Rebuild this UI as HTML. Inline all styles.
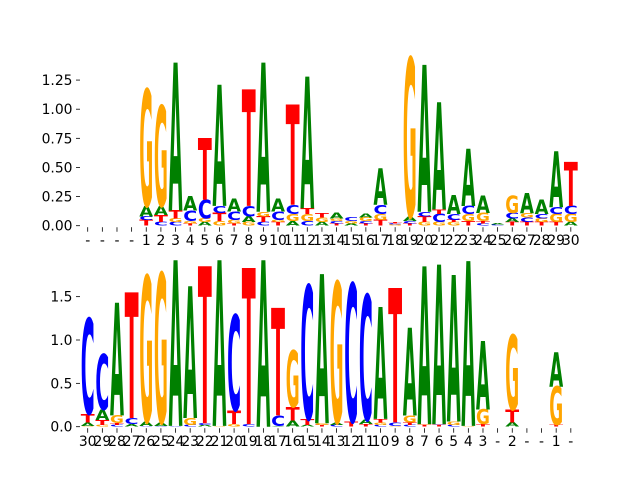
<!DOCTYPE html>
<html><head><meta charset="utf-8"><style>
html,body{margin:0;padding:0;background:#fff}
svg{display:block}
text.tk{font-family:"DejaVu Sans","Liberation Sans",sans-serif;font-size:13.9px;fill:#000}
</style></head><body>
<svg id="chart" width="640" height="480" viewBox="0 0 640 480" xmlns="http://www.w3.org/2000/svg"></svg>
<script>
const topLabels = ['-','-','-','-','1','2','3','4','5','6','7','8','9','10','11','12','13','14','15','16','17','18','19','20','21','22','23','24','25','26','27','28','29','30'];
const topData = [[],[],[],[],
"T.05 C.03 A.09 G1.0","C.03 T.06 A.08 G.86","C.03 G.03 T.07 A1.27","T.02 G.02 C.09 A.12","A.03 G.03 C.16 T.53",
"G.04 T.07 C.06 A1.04","T.02 G.03 C.07 A.11","G.03 A.05 C.09 T1.0","C.03 T.05 G.04 A1.28","T.03 G.02 C.07 A.11",
"A.04 G.06 C.08 T.86","C.04 G.06 T.05 A1.13","A.03 G.04 T.04","T.02 C.02 G.02 A.05","A.02 G.02 C.03",
"T.02 C.02 G.03 A.03","T.05 G.05 C.08 A.31","G.01 C.01 T.01","T.02 C.02 A.04 G1.36","G.03 T.05 C.04 A1.26",
"G.03 C.07 T.04 A.92","G.03 T.02 C.05 A.16","T.04 G.06 C.07 A.49","C.02 T.02 G.07 A.15","C.01 A.01",
"T.03 A.03 C.05 G.15","T.03 C.04 G.04 A.17","T.03 G.03 C.04 A.12","T.03 G.07 C.06 A.48","A.03 G.07 C.07 T.38"];
const topTicks = [0,0.25,0.5,0.75,1.0,1.25];
const botLabels = ['30','29','28','27','26','25','24','23','22','21','20','19','18','17','16','15','14','13','12','11','10','9','8','7','6','5','4','3','-','2','-','-','1','-'];
const botData = ["G.01 A.04 T.10 C1.10","G.02 T.06 A.12 C.64","C.02 T.02 G.09 A1.30","A.03 C.07 T1.45","C.01 A.05 G1.68",
"C.01 A.04 G1.72","C.01 A1.91","C.02 G.08 A1.52","A.02 C.02 T1.81","G.01 A1.91","G.03 T.16 C1.10","C.03 T1.80","A1.92",
"A.01 C.12 T1.24","A.07 T.16 G.65","A.02 T.07 C1.54","T.02 G.02 A1.72","C.02 A.03 G1.62","T.06 C1.59","T.03 A.05 C1.44",
"C.02 G.03 T.04 A1.29","G.01 C.04 T1.55","C.02 T.03 G.08 A1.01","T.02 G.01 A1.82","T.02 C.01 A1.84","C.02 G.04 A1.69",
"G.01 A1.90","T.03 G.17 A.79",[],"A.05 T.15 G.86",[],[],"T.02 G.44 A.40",[]];
const botTicks = [0,0.5,1.0,1.5];
const colors = {A:'#008000',C:'#0000ff',G:'#ffa500',T:'#ff0000'};
const NS='http://www.w3.org/2000/svg';
const svg=document.getElementById('chart');
function mk(tag,attrs,parent){const e=document.createElementNS(NS,tag);for(const k in attrs)e.setAttribute(k,attrs[k]);(parent||svg).appendChild(e);return e;}
function panel(name,labels,data,ticks,y0,pxPerUnit,fmt){
  const g=mk('g',{});
  
  
  const x0=87.7, step=14.64;
  const xs=i=>x0+i*step;
  const ys=v=>y0-v*pxPerUnit;
  const w=step*0.95;
  data.forEach((d,i)=>{
    if(typeof d!=='string')return;
    let cum=0;
    d.split(' ').forEach(tok=>{
      const L=tok[0], h=parseFloat(tok.slice(1));
      const hp=h*pxPerUnit;
      const t=mk('text',{x:0,y:0,'font-family':'DejaVu Sans, sans-serif','font-weight':'bold','font-size':100,
        textLength:w,lengthAdjust:'spacingAndGlyphs',fill:colors[L],
        transform:`translate(${xs(i)-w/2},${ys(cum)}) scale(1,${hp/72.9})`},g);
      t.textContent=L;
      
      
      cum+=h;
    });
  });
  labels.forEach((l,i)=>{
    const tk=mk('line',{x1:xs(i),x2:xs(i),y1:y0+1.5,y2:y0+6,stroke:'#000','stroke-width':0.8},g);
    
    
    const t=mk('text',{x:xs(i),y:y0+19.5,'text-anchor':'middle',class:'tk'},g);
    t.textContent=l;
    
    
  });
  ticks.forEach(v=>{
    const tk=mk('line',{x1:76,x2:80,y1:ys(v),y2:ys(v),stroke:'#000','stroke-width':0.8},g);
    
    
    const t=mk('text',{x:72.5,y:ys(v)+5,'text-anchor':'end',class:'tk'},g);
    t.textContent=v.toFixed(fmt);
    
    
  });
}
panel('top-logo',topLabels,topData,topTicks,225.7,116.5,2);
panel('bottom-logo',botLabels,botData,botTicks,426.7,86.7,1);
</script>
</body></html>
